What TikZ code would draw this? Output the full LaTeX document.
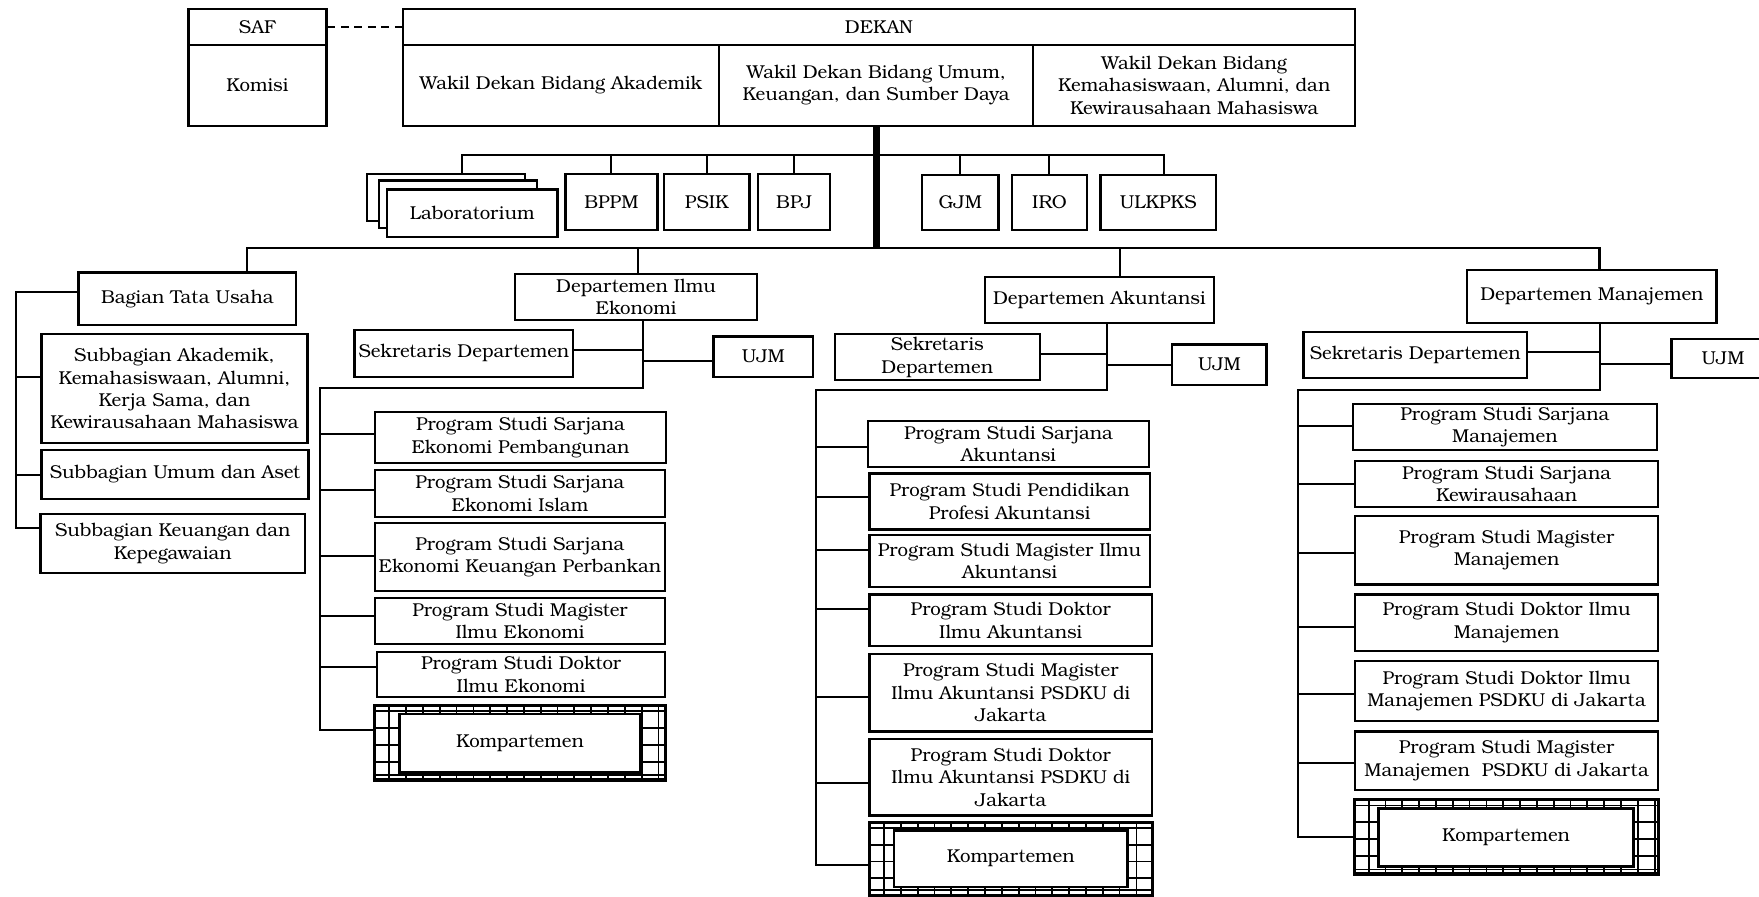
\documentclass[tikz,border=0pt]{standalone}
\usepackage{fontspec}
\setmainfont{TeX Gyre Bonum}
\usetikzlibrary{calc}
\tikzset{
  box/.style={draw, line width=2pt, fill=white, inner sep=0pt, align=center,
    font=\fontsize{16.6}{20}\selectfont},
  conn/.style={line width=1.8pt},
  mainline/.style={line width=2.3pt},
  spineline/.style={line width=6pt},
  dashconn/.style={line width=1.8pt, dash pattern=on 7pt off 5pt},
  gridline/.style={line width=1.6pt},
  kompout/.style={draw, line width=2.6pt, fill=white, inner sep=0pt,
    path picture={
      \foreach \i in {13,28,...,400}{
        \draw[gridline] ([xshift=\i pt]path picture bounding box.north west) -- ([xshift=\i pt]path picture bounding box.south west);}
      \foreach \j in {5,20,...,120}{
        \draw[gridline] ([yshift=-\j pt]path picture bounding box.north west) -- ([yshift=-\j pt]path picture bounding box.north east);}
      \draw[gridline] ([yshift=5pt]path picture bounding box.south west) -- ([yshift=5pt]path picture bounding box.south east);
    }},
  kompin/.style={draw, line width=2.2pt, fill=white, inner sep=0pt,
    font=\fontsize{16.6}{20}\selectfont},
}
\newcommand\orgbox[7][]{%
  \node[box,minimum width={(#5-#3)*1pt},minimum height={(#6-#4)*1pt},#1] (#2) at ({(#3+#5)/2},{(#4+#6)/2}) {#7};}
\newcommand\kompbox[5]{%
  \node[kompout,minimum width={(#4-#2)*1pt},minimum height={(#5-#3)*1pt}] (#1) at ({(#2+#4)/2},{(#3+#5)/2}) {};
  \node[kompin,minimum width={(#4-#2-44)*1pt},minimum height={(#5-#3-15)*1pt}] (#1in) at (#1.center) {Kompartemen};}
\begin{document}
\begin{tikzpicture}[x=1pt,y=-1pt]
\useasboundingbox (0,0) rectangle (1568,799);

% ---------- top ----------
\orgbox{saf}{168}{8}{291}{40}{SAF}
\orgbox{kom}{168}{40}{291}{112}{Komisi}
\orgbox{dekan}{359}{8}{1208}{40}{DEKAN}
\orgbox{wda}{359}{40}{641}{112}{Wakil Dekan Bidang Akademik}
\orgbox{wdu}{641}{40}{921}{112}{Wakil Dekan Bidang Umum,\\Keuangan, dan Sumber Daya}
\orgbox{wdk}{921}{40}{1208}{112}{Wakil Dekan Bidang\\Kemahasiswaan, Alumni, dan\\Kewirausahaan Mahasiswa}
\draw[dashconn] (saf.east) -- (dekan.west);

\coordinate (uhub) at (781,138);
\coordinate (hub) at (781,221);

% ---------- units ----------
\orgbox{labA}{327}{155}{468}{197}{}
\orgbox{labB}{338}{161}{479}{203}{}
\orgbox{labC}{345}{169}{497}{211}{Laboratorium}
\orgbox{bppm}{504}{155}{586}{205}{BPPM}
\orgbox{psik}{592}{155}{668}{205}{PSIK}
\orgbox{bpj}{676}{155}{740}{205}{BPJ}
\orgbox{gjm}{822}{156}{890}{205}{GJM}
\orgbox{iro}{902}{156}{969}{205}{IRO}
\orgbox{ulk}{981}{156}{1084}{205}{ULKPKS}

\draw[conn] ([xshift=14pt]labA.north) |- (uhub) -| ([xshift=5pt]ulk.north);
\foreach \n in {bppm,psik,bpj,gjm,iro}{\draw[conn] (\n.north) -- (\n.north |- uhub);}
\draw[spineline] (wdu.south) -- (hub);

% ---------- Bagian Tata Usaha ----------
\orgbox{btu}{70}{243}{264}{290}{Bagian Tata Usaha}
\orgbox{sba}{37}{298}{274}{395}{Subbagian Akademik,\\Kemahasiswaan, Alumni,\\Kerja Sama, dan\\Kewirausahaan Mahasiswa}
\orgbox{sbu}{37}{401}{275}{445}{Subbagian Umum dan Aset}
\orgbox{sbk}{36}{458}{272}{511}{Subbagian Keuangan dan\\Kepegawaian}
\coordinate (railA) at (14,0);
\draw[conn] ($(btu.west)+(0,-6.5)$) -| ($(sbk.west -| railA)+(0,-13.5)$) -- ($(sbk.west)+(0,-13.5)$);
\draw[conn] ($(sba.west)+(0,-10.5)$) -- ($(sba.west -| railA)+(0,-10.5)$);
\draw[conn] (sbu.west) -- (sbu.west -| railA);

% ---------- Departemen Ilmu Ekonomi ----------
\orgbox{ie}{459}{244}{675}{285}{Departemen Ilmu\\Ekonomi}
\orgbox{iesek}{316}{294}{511}{336}{Sekretaris Departemen}
\orgbox{ieujm}{636}{300}{725}{336}{UJM}
\orgbox{ie1}{334}{367}{594}{413}{Program Studi Sarjana\\Ekonomi Pembangunan}
\orgbox{ie2}{334}{419}{593}{461}{Program Studi Sarjana\\Ekonomi Islam}
\orgbox{ie3}{334}{466}{593}{527}{Program Studi Sarjana\\Ekonomi Keuangan Perbankan}
\orgbox{ie4}{334}{533}{593}{574}{Program Studi Magister\\Ilmu Ekonomi}
\orgbox{ie5}{336}{581}{593}{621}{Program Studi Doktor\\Ilmu Ekonomi}
\kompbox{iek}{334}{629}{593}{696}
\coordinate (ieJ) at (573,346);
\coordinate (ieR) at (285,346);
\draw[conn] (ie.south -| ieJ) -- (ieJ) -- (ieR) -- ($(ieR |- iek.west)+(0,-12)$) -- ($(iek.west)+(0,-12)$);
\draw[conn] ($(iesek.east)+(0,-3)$) -- ($(iesek.east -| ieJ)+(0,-3)$);
\draw[conn] ($(ieujm.west)+(0,4)$) -- ($(ieujm.west -| ieJ)+(0,4)$);
\foreach \n/\d in {ie1/-3,ie2/-3,ie3/-1,ie4/-4,ie5/-6}{\draw[conn] ($(\n.west)+(0,\d)$) -- ($(\n.west -| ieR)+(0,\d)$);}

% ---------- Departemen Akuntansi ----------
\orgbox{da}{878}{247}{1082}{288}{Departemen Akuntansi}
\orgbox{dasek}{744}{298}{927}{339}{Sekretaris\\Departemen}
\orgbox{daujm}{1045}{307}{1129}{343}{UJM}
\orgbox{da1}{774}{375}{1024}{416}{Program Studi Sarjana\\Akuntansi}
\orgbox{da2}{775}{422}{1025}{472}{Program Studi Pendidikan\\Profesi Akuntansi}
\orgbox{da3}{775}{477}{1025}{523}{Program Studi Magister Ilmu\\Akuntansi}
\orgbox{da4}{775}{530}{1027}{576}{Program Studi Doktor\\Ilmu Akuntansi}
\orgbox{da5}{775}{583}{1027}{652}{Program Studi Magister\\Ilmu Akuntansi PSDKU di\\Jakarta}
\orgbox{da6}{775}{659}{1027}{727}{Program Studi Doktor\\Ilmu Akuntansi PSDKU di\\Jakarta}
\kompbox{dak}{775}{733}{1027}{798}
\coordinate (daJ) at (987,348);
\coordinate (daR) at (727,348);
\draw[conn] (da.south -| daJ) -- (daJ) -- (daR) -- ($(daR |- dak.west)+(0,5.5)$) -- ($(dak.west)+(0,5.5)$);
\draw[conn] ($(dasek.east)+(0,-3)$) -- ($(dasek.east -| daJ)+(0,-3)$);
\draw[conn] (daujm.west) -- (daujm.west -| daJ);
\foreach \n/\d in {da1/3,da2/-4,da3/-10,da4/-10,da5/3.5,da6/5}{\draw[conn] ($(\n.west)+(0,\d)$) -- ($(\n.west -| daR)+(0,\d)$);}
\draw[conn] ([xshift=18pt]da.north) -- ([xshift=18pt]da.north |- hub);

% ---------- Departemen Manajemen ----------
\orgbox{dm}{1308}{241}{1530}{288}{Departemen Manajemen}
\orgbox{dmsek}{1162}{296}{1361}{337}{Sekretaris Departemen}
\orgbox{dmujm}{1490}{302}{1582}{337}{UJM}
\orgbox{dm1}{1206}{360}{1477}{401}{Program Studi Sarjana\\Manajemen}
\orgbox{dm2}{1208}{411}{1478}{452}{Program Studi Sarjana\\Kewirausahaan}
\orgbox{dm3}{1208}{460}{1478}{521}{Program Studi Magister\\Manajemen}
\orgbox{dm4}{1208}{530}{1478}{580}{Program Studi Doktor Ilmu\\Manajemen}
\orgbox{dm5}{1208}{589}{1478}{643}{Program Studi Doktor Ilmu\\Manajemen PSDKU di Jakarta}
\orgbox{dm6}{1208}{652}{1478}{704}{Program Studi Magister\\Manajemen~ PSDKU di Jakarta}
\kompbox{dmk}{1207}{713}{1478}{780}
\coordinate (dmJ) at (1426,348);
\coordinate (dmR) at (1157,348);
\draw[conn] (dm.south -| dmJ) -- (dmJ) -- (dmR) -- (dmR |- dmk.west) -- (dmk.west);
\draw[conn] ($(dmsek.east)+(0,-2.5)$) -- ($(dmsek.east -| dmJ)+(0,-2.5)$);
\draw[conn] ($(dmujm.west)+(0,5)$) -- ($(dmujm.west -| dmJ)+(0,5)$);
\foreach \n/\d in {dm1/-1,dm2/0,dm3/2.5,dm4/4,dm5/3,dm6/2}{\draw[conn] ($(\n.west)+(0,\d)$) -- ($(\n.west -| dmR)+(0,\d)$);}

% ---------- main bar ----------
\draw[mainline] ([xshift=53pt]btu.north) |- (hub) -| ([xshift=7pt]dm.north);
\draw[conn] ([xshift=2pt]ie.north) -- ([xshift=2pt]ie.north |- hub);
\end{tikzpicture}
\end{document}
